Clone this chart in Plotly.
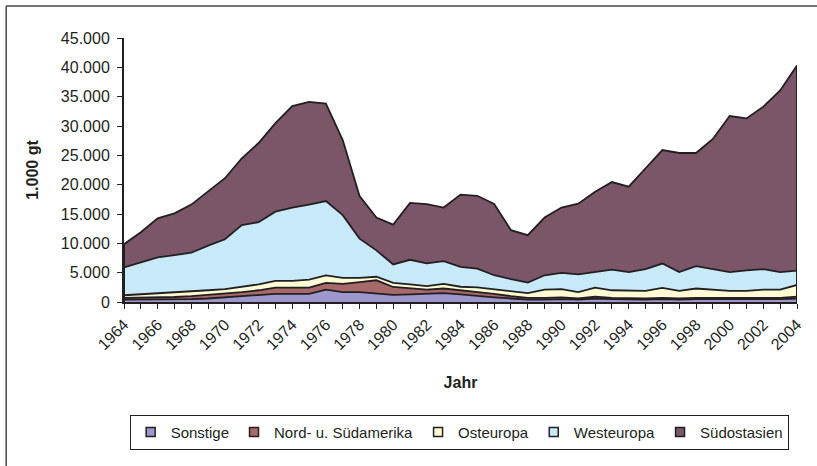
import plotly.graph_objects as go

years = list(range(1964, 2005))

sonstige = [400, 400, 400, 450, 500, 600, 800, 1000, 1200, 1400, 1400, 1400, 2100, 1700, 1700,
            1500, 1200, 1300, 1400, 1500, 1300, 1000, 800, 600, 400, 400, 500, 400, 600, 500,
            400, 400, 500, 400, 500, 500, 400, 400, 500, 500, 600]
amerika = [300, 350, 300, 400, 500, 600, 600, 700, 800, 1050, 1050, 1050, 1150, 1400, 1700,
           2200, 1360, 1000, 700, 800, 700, 800, 600, 400, 300, 300, 300, 200, 300, 200,
           200, 200, 200, 200, 200, 200, 200, 200, 200, 200, 300]
osteuropa = [450, 550, 730, 750, 830, 800, 800, 860, 1000, 1150, 1150, 1350, 1300, 1000, 700,
             600, 690, 700, 600, 800, 600, 700, 800, 800, 800, 1400, 1400, 1100, 1550, 1300,
             1300, 1300, 1700, 1300, 1600, 1400, 1300, 1300, 1400, 1400, 2000]
westeuropa = [4750, 5500, 6170, 6400, 6570, 7600, 8500, 10540, 10600, 11800, 12500, 12800, 12650, 10700, 6700,
              4500, 3150, 4200, 3900, 3850, 3400, 3200, 2360, 2100, 1800, 2460, 2750, 3000, 2650, 3500,
              3200, 3700, 4150, 3200, 3800, 3550, 3200, 3500, 3500, 3000, 2450]
suedostasien = [3950, 5100, 6650, 7100, 8200, 9250, 10400, 11400, 13500, 15100, 17300, 17500, 16600, 12800, 7260,
                5600, 6800, 9700, 10100, 9150, 12300, 12400, 12140, 8350, 8100, 9840, 11150, 12050, 13700, 14950,
                14550, 17200, 19350, 20300, 19300, 22150, 26600, 25900, 27700, 30950, 34950]

series = [
    ("Sonstige", sonstige, "#9E97CC"),
    ("Nord- u. Südamerika", amerika, "#A8696B"),
    ("Osteuropa", osteuropa, "#FFFBD4"),
    ("Westeuropa", westeuropa, "#C7E9F8"),
    ("Südostasien", suedostasien, "#7B5568"),
]

LINE = "#231F20"
FONT = "Liberation Sans, Arial, sans-serif"

fig = go.Figure()
for name, vals, col in series:
    fig.add_trace(go.Scatter(
        x=years, y=vals, name=name, mode="lines", stackgroup="one",
        fillcolor=col, line=dict(color=LINE, width=1.8), showlegend=False,
    ))

totals = [sum(v) for v in zip(*[s[1] for s in series])]
for idx in (0, -1):
    fig.add_trace(go.Scatter(
        x=[years[idx], years[idx]], y=[0, totals[idx]], mode="lines",
        line=dict(color=LINE, width=2), showlegend=False, hoverinfo="skip",
    ))

# legend entries with square swatches
for name, vals, col in series:
    fig.add_trace(go.Scatter(
        x=[None], y=[None], name=name, mode="markers",
        marker=dict(symbol="square", size=9, color=col, line=dict(color=LINE, width=1.5)),
    ))

# outer frame (only top and left edges are visible in the original crop)
fx0 = (6 - 124) / 674
fy1 = (302 - 6) / 264
frame = [
    dict(type="line", xref="paper", yref="paper", x0=fx0, x1=1.2, y0=fy1, y1=fy1,
         line=dict(color="#444444", width=1.5), layer="below"),
    dict(type="line", xref="paper", yref="paper", x0=fx0, x1=fx0, y0=-0.8, y1=fy1,
         line=dict(color="#444444", width=1.5), layer="below"),
]

fig.update_layout(
    width=817, height=466,
    margin=dict(l=124, r=20, t=38, b=164),
    paper_bgcolor="white", plot_bgcolor="white",
    separators=",.",
    font=dict(family=FONT, size=16, color=LINE),
    showlegend=True,
    legend=dict(
        orientation="h", traceorder="normal",
        x=0.498, xanchor="center", y=-0.493, yanchor="middle",
        bordercolor=LINE, borderwidth=1, font=dict(size=15),
        itemwidth=30,
    ),
    xaxis=dict(
        range=[1964, 2004], tick0=1964, dtick=2, tickangle=-45,
        ticks="outside", ticklen=5, tickcolor=LINE, tickwidth=1,
        minor=dict(dtick=1, ticks="outside", ticklen=5, tickcolor=LINE),
        showline=True, linecolor=LINE, linewidth=2, showgrid=False, zeroline=False,
        tickfont=dict(size=16),
        title=dict(text="<b>Jahr</b>", font=dict(size=16), standoff=25),
    ),
    yaxis=dict(
        range=[0, 45000], dtick=5000, tickformat=",d",
        ticks="outside", ticklen=5, tickcolor=LINE, tickwidth=1,
        ticklabelstandoff=4,
        showline=True, linecolor=LINE, linewidth=2, showgrid=False, zeroline=False,
        tickfont=dict(size=16),
        title=dict(text="<b>1.000 gt</b>", font=dict(size=16), standoff=18),
    ),
    shapes=frame,
)

fig.write_html(
    "out.html",
    config={"displayModeBar": False},
    post_script="document.body.style.margin='0';document.body.style.overflow='hidden';",
)
